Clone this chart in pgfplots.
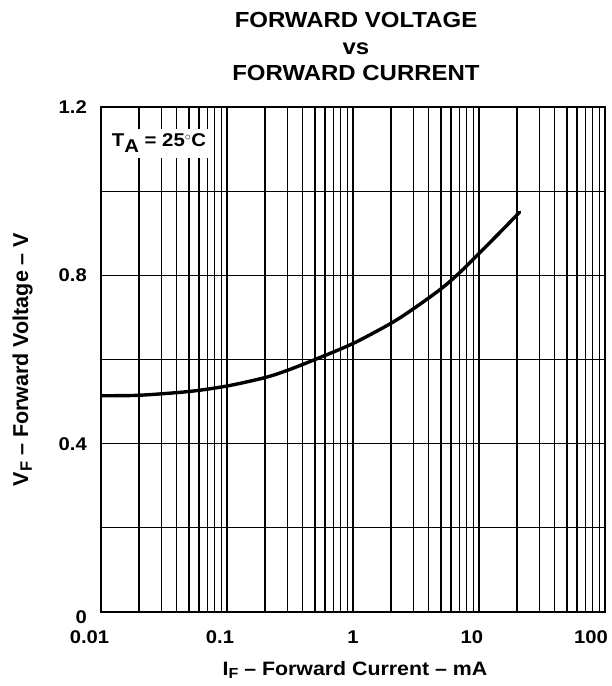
\documentclass[border=0pt]{standalone}
\usepackage{fontspec}
\setmainfont{Liberation Sans}[FakeStretch=1.1]
\newfontfamily\yfont{Liberation Sans}
\usepackage{pgfplots}
\pgfplotsset{compat=1.18}
\begin{document}
\begin{tikzpicture}
\useasboundingbox (-101pt,-74pt) rectangle (510pt,612pt);
\begin{axis}[
  name=ax,
  at={(0pt,0pt)}, anchor=south west,
  scale only axis, width=504pt, height=505pt,
  xmode=log, xmin=0.01, xmax=100,
  ymin=0, ymax=1.2,
  xtick={0.01,0.1,1,10,100},
  xticklabels={\kern-23pt 0.01,\kern-14pt 0.1,1,\kern-14pt 10,\kern-28pt 100},
  ytick={0,0.4,0.8,1.2},
  yticklabels={\raisebox{-5pt}[\height][0pt]{0},0.4,0.8,1.2},
  minor ytick={0.2,0.6,1.0},
  grid=both,
  major grid style={black, line width=1.2pt},
  minor grid style={black, line width=1.2pt},
  major tick length=0pt, minor tick length=0pt,
  axis line style={black, line width=2.3pt},
  tick label style={font=\bfseries\fontsize{18.4}{20}\selectfont},
  /pgf/number format/assume math mode=true,
  xticklabel style={anchor=base, inner sep=0pt, yshift=-31pt},
  yticklabel style={anchor=east, inner sep=0pt, xshift=-14pt},
  xlabel={\bfseries I\raisebox{-0.35ex}{\fontsize{14.5}{16}\selectfont F} – Forward Current – mA},
  ylabel={\yfont\bfseries V\raisebox{-0.35ex}{\fontsize{16.5}{18}\selectfont F} – Forward Voltage – V},
  xlabel style={font=\bfseries\fontsize{19.4}{22}\selectfont, at={(axis description cs:0.504,-0.1248)}, anchor=base, inner sep=0pt},
  ylabel style={font=\bfseries\fontsize{21.5}{24}\selectfont, at={(axis description cs:-0.1448,0.5)}, anchor=base, inner sep=0pt},
]
\addplot[black, line width=3.4pt, smooth, line cap=round] coordinates {
(0.01,0.514) (0.02,0.515) (0.05,0.524) (0.1,0.537) (0.2,0.557) (0.3,0.574)
(0.5,0.600) (1,0.638) (2,0.686) (3,0.720) (5,0.768) (7,0.806) (10,0.852)
(15,0.905) (21,0.950)
};
\end{axis}
\begin{scope}[every node/.style={font=\bfseries\fontsize{21.8}{24}\selectfont, anchor=base, inner sep=0pt}]
\node at (255pt,584.7pt) {FORWARD VOLTAGE};
\node at (255pt,557.7pt) {vs};
\node at (255pt,531.3pt) {FORWARD CURRENT};
\end{scope}
\node[anchor=base west, fill=white, inner sep=5pt, font=\bfseries\fontsize{18.5}{20}\selectfont]
  at (5.7pt,465.3pt) {T\raisebox{-6pt}{A} = 25${}^{\circ}$C};
\end{tikzpicture}
\end{document}
